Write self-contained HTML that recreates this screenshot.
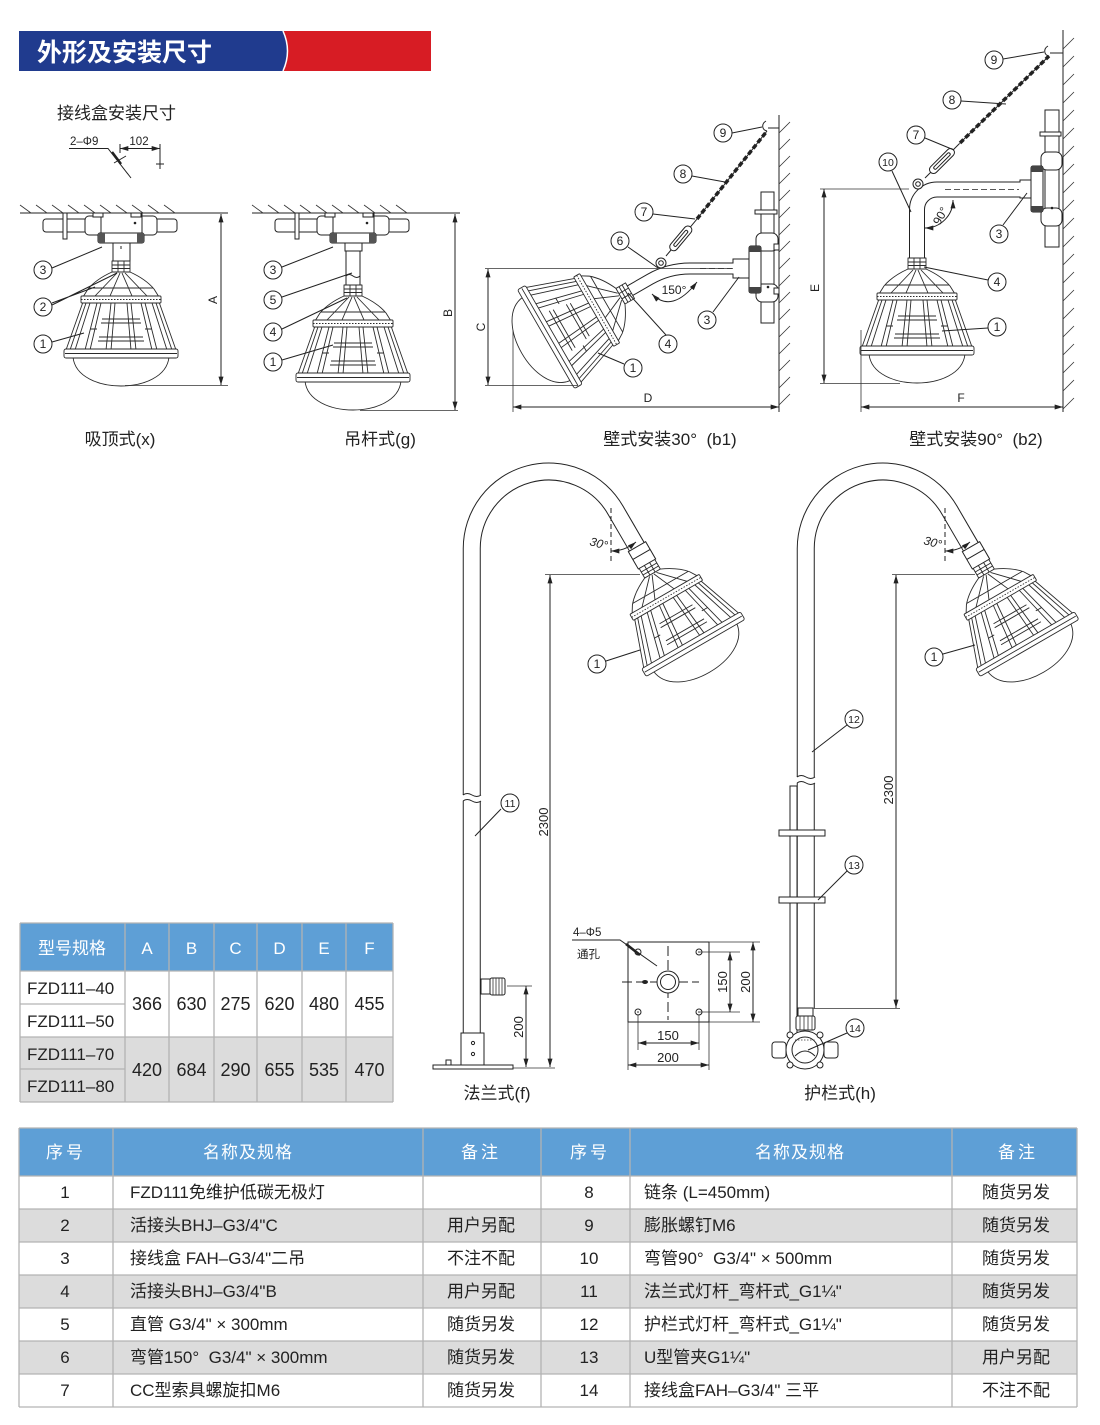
<!DOCTYPE html>
<html><head><meta charset="utf-8">
<style>
html,body{margin:0;padding:0;background:#fff;}
svg{display:block;}
text{font-family:"Liberation Sans","Noto Sans CJK SC",sans-serif;fill:#222;}
.ln{stroke:#222;stroke-width:1;fill:none;}
.th{stroke:#333;stroke-width:0.8;fill:none;}
.w{fill:#fff;stroke:#222;stroke-width:1;}
.co circle{fill:#fff;stroke:#222;stroke-width:1;}
.co text{font-size:12px;text-anchor:middle;}
.tb text{font-size:17px;}
</style></head><body>
<svg width="1100" height="1425" viewBox="0 0 1100 1425" xmlns="http://www.w3.org/2000/svg">
<defs>
<marker id="ar" viewBox="0 0 10 6" refX="10" refY="3" markerWidth="9" markerHeight="5" markerUnits="userSpaceOnUse" orient="auto-start-reverse"><path d="M0,0 L10,3 L0,6 Z" fill="#222"/></marker>
<g id="lamp" stroke="#2a2a2a" stroke-width="0.9" fill="#fff" stroke-linejoin="round">
 <path d="M-48,96 C-46,116 -22,125 0,125 C22,125 46,116 48,96 Z"/>
 <path d="M-38,41 L38,41 L55,89 L-55,89 Z"/>
 <g fill="none">
  <path d="M-35,42 L-51,89 M-31,42 L-46,89"/>
  <path d="M-24,42 L-36,89 M-20,42 L-31,89"/>
  <path d="M-10,42 L-15,89 M-6,42 L-10,89"/>
  <path d="M6,42 L10,89 M10,42 L15,89"/>
  <path d="M20,42 L31,89 M24,42 L36,89"/>
  <path d="M31,42 L46,89 M35,42 L51,89"/>
  <path d="M-19,58 H19 M-20,62 H20 M-22,76 H22 M-23,80 H23"/>
  <path d="M-31,68 H-24 M24,68 H31"/>
 </g>
 <rect x="-57" y="88" width="114" height="9" rx="2"/>
 <path d="M-56,92.5 H56" fill="none"/>
 <path d="M-9,11 L9,11 C20,16 28,22 33,28 L38,36 L-38,36 L-33,28 C-28,22 -20,16 -9,11 Z"/>
 <path d="M-4,12 L-26,35 M4,12 L26,35 M-1,12 L-11,35 M1,12 L11,35 M-32,27 H32" fill="none"/>
 <rect x="-40" y="35" width="80" height="7" rx="1"/>
 <path d="M-40,38.5 H40" stroke-dasharray="1.5 1.5" fill="none"/>
 <rect x="-9" y="0" width="18" height="11"/>
 <path d="M-9,4 H9 M-9,7.5 H9 M-3,0 V11 M3,0 V11" fill="none"/>
</g>
</defs>

<!-- Header -->
<rect x="19" y="31" width="412" height="40" fill="#d71c24"/>
<path d="M19,31 H283 Q292,51 283,71 H19 Z" fill="#203b8e"/>
<path d="M283,31 Q292,51 283,71" stroke="#fff" stroke-width="1.5" fill="none"/>
<text x="37" y="61" font-size="25" font-weight="bold" style="fill:#fff">外形及安装尺寸</text>

<text x="57" y="119" font-size="17">接线盒安装尺寸</text>
<text x="70" y="145" font-size="11.5">2–Φ9</text>
<text x="139" y="145" font-size="11.5" text-anchor="middle">102</text>
<path class="ln" d="M69,148.5 H108 L131,178"/>
<path d="M112,152 L121,164" stroke="#222" stroke-width="2.5"/>
<path class="ln" d="M114,163 L126,156"/>
<line class="ln" x1="120" y1="148.5" x2="160" y2="148.5" marker-start="url(#ar)" marker-end="url(#ar)"/>
<path class="ln" d="M120,144 V153 M160,144 V169 M156,164 H164"/>

<!-- Diagram 1 : 吸顶式 -->
<g id="ceil1">
 <line class="ln" x1="20" y1="213" x2="228" y2="213"/>
 <path class="th" d="M20,205 l11,8 M36,205 l11,8 M52,205 l11,8 M68,205 l11,8 M84,205 l11,8 M100,205 l11,8 M116,205 l11,8 M132,205 l11,8 M148,205 l11,8 M164,205 l11,8"/>
 <rect class="w" x="43" y="219" width="134" height="13" rx="3"/>
 <rect class="w" x="63" y="213" width="4" height="26"/>
 <rect class="w" x="85" y="216" width="20" height="19" rx="4"/>
 <rect class="w" x="137" y="216" width="20" height="19" rx="4"/>
 <rect class="w" x="101" y="213" width="41" height="22"/>
 <rect class="w" x="93" y="213" width="10" height="4"/>
 <rect class="w" x="131" y="213" width="10" height="4"/>
 <circle cx="135" cy="223" r="1.3" fill="#222"/>
 <rect class="w" x="98" y="233" width="46" height="10" rx="2"/>
 <rect x="98" y="233" width="7" height="10" fill="#555"/>
 <rect x="137" y="233" width="7" height="10" fill="#555"/>
</g>
<rect class="w" x="113" y="243" width="17" height="18"/>
<path class="ln" d="M121,246 v3"/>
<use href="#lamp" transform="translate(121,261)"/>
<line class="ln" x1="221" y1="214" x2="221" y2="385" marker-start="url(#ar)" marker-end="url(#ar)"/>
<line class="th" x1="125" y1="385.5" x2="228" y2="385.5"/>
<text transform="translate(217,300) rotate(-90)" font-size="12" text-anchor="middle">A</text>
<path class="ln" d="M52,268 L102,247 M52,305 L117,273 M52,303 L95,287 M52,342 L84,333"/>
<g class="co"><circle cx="43" cy="270" r="9"/><text x="43" y="274">3</text>
<circle cx="43" cy="307" r="9"/><text x="43" y="311">2</text>
<circle cx="43" cy="344" r="9"/><text x="43" y="348">1</text></g>
<text x="120" y="445" font-size="17" text-anchor="middle">吸顶式(x)</text>

<!-- Diagram 2 : 吊杆式 -->
<use href="#ceil1" transform="translate(232,0)"/>
<rect class="w" x="345" y="243" width="17" height="8"/>
<rect class="w" x="346" y="251" width="14" height="34"/>
<path class="ln" d="M346,276 q3,-3 7,0 t7,0"/>
<use href="#lamp" transform="translate(353,285)"/>
<line class="ln" x1="455" y1="214" x2="455" y2="410" marker-start="url(#ar)" marker-end="url(#ar)"/>
<line class="th" x1="360" y1="410.5" x2="458" y2="410.5"/>
<text transform="translate(452,313) rotate(-90)" font-size="12" text-anchor="middle">B</text>
<path class="ln" d="M282,267 L333,247 M282,297 L352,273 M282,329 L347,298 M282,360 L333,345"/>
<g class="co"><circle cx="273" cy="270" r="9"/><text x="273" y="274">3</text>
<circle cx="273" cy="300" r="9"/><text x="273" y="304">5</text>
<circle cx="273" cy="332" r="9"/><text x="273" y="336">4</text>
<circle cx="273" cy="362" r="9"/><text x="273" y="366">1</text></g>
<text x="380" y="445" font-size="17" text-anchor="middle">吊杆式(g)</text>

<!-- Diagram b1 -->
<line class="ln" x1="779" y1="115" x2="779" y2="412"/>
<path class="th" d="M779,133 l11,-11 M779,150 l11,-11 M779,167 l11,-11 M779,184 l11,-11 M779,201 l11,-11 M779,218 l11,-11 M779,235 l11,-11 M779,252 l11,-11 M779,269 l11,-11 M779,286 l11,-11 M779,303 l11,-11 M779,320 l11,-11 M779,337 l11,-11 M779,354 l11,-11 M779,371 l11,-11 M779,388 l11,-11 M779,405 l11,-11"/>
<rect class="w" x="761" y="192" width="13" height="131"/>
<rect class="w" x="755" y="210" width="22" height="4"/>
<rect class="w" x="756" y="233" width="22" height="18" rx="6"/>
<rect class="w" x="756" y="284" width="22" height="18" rx="6"/>
<rect class="w" x="749" y="246" width="12" height="47" rx="2"/>
<rect x="749" y="246" width="12" height="6" fill="#444"/>
<rect x="749" y="287" width="12" height="6" fill="#444"/>
<rect class="w" x="774" y="244" width="5" height="6"/>
<rect class="w" x="774" y="288" width="5" height="6"/>
<circle cx="768" cy="287" r="1.3" fill="#222"/>
<rect class="w" x="733" y="259" width="16" height="19"/>
<path d="M733,268.5 H690 A80,80 0 0 0 650,279.2 L630,290.7" stroke="#222" stroke-width="12" fill="none"/>
<path d="M734,268.5 H690 A80,80 0 0 0 650,279.2 L630,290.7" stroke="#fff" stroke-width="10" fill="none"/>
<path d="M700,268.5 H732" stroke="#222" stroke-width="0.8" stroke-dasharray="6 3" fill="none"/>
<use href="#lamp" transform="translate(630,290.7) rotate(60)"/>
<line x1="697" y1="219" x2="767" y2="131" stroke="#222" stroke-width="3.5" stroke-dasharray="5 2.5"/>
<line x1="697" y1="219" x2="767" y2="131" stroke="#222" stroke-width="1"/>
<g transform="translate(666,256) rotate(-50)">
 <line class="ln" x1="0" y1="0" x2="8" y2="0"/>
 <rect class="w" x="8" y="-4" width="30" height="8" rx="4"/>
 <rect class="w" x="13" y="-1.5" width="20" height="3" rx="1.5"/>
 <line class="ln" x1="38" y1="0" x2="48" y2="0"/>
</g>
<circle class="w" cx="661" cy="263" r="5"/><circle class="w" cx="661" cy="263" r="2.3"/>
<path class="ln" d="M767,131 C762,130 761,124 766,121 M768,128 H779"/>
<path class="ln" d="M652,294 Q672,314 697,282" marker-start="url(#ar)" marker-end="url(#ar)"/>
<text x="674" y="294" font-size="12" text-anchor="middle">150°</text>
<line class="ln" x1="488" y1="269" x2="488" y2="385" marker-start="url(#ar)" marker-end="url(#ar)"/>
<line class="th" x1="485" y1="268.5" x2="733" y2="268.5"/>
<line class="th" x1="485" y1="385.5" x2="578" y2="385.5"/>
<text transform="translate(485,327) rotate(-90)" font-size="12" text-anchor="middle">C</text>
<line class="ln" x1="513" y1="407" x2="779" y2="407" marker-start="url(#ar)" marker-end="url(#ar)"/>
<line class="th" x1="513" y1="330" x2="513" y2="412"/>
<text x="648" y="402" font-size="12" text-anchor="middle">D</text>
<path class="ln" d="M732,133 L762,127 M692,176 L725,182 M653,214 L695,219 M628,247 L658,268 M713,312 L739,277 M666,335 L628,293 M624,364 L598,353"/>
<g class="co"><circle cx="723" cy="133" r="9"/><text x="723" y="137">9</text>
<circle cx="683" cy="174" r="9"/><text x="683" y="178">8</text>
<circle cx="644" cy="212" r="9"/><text x="644" y="216">7</text>
<circle cx="620" cy="241" r="9"/><text x="620" y="245">6</text>
<circle cx="707" cy="320" r="9"/><text x="707" y="324">3</text>
<circle cx="668" cy="344" r="9"/><text x="668" y="348">4</text>
<circle cx="633" cy="368" r="9"/><text x="633" y="372">1</text></g>
<text x="670" y="445" font-size="17" text-anchor="middle">壁式安装30°&#160;&#160;(b1)</text>

<!-- Diagram b2 -->
<line class="ln" x1="1063" y1="30" x2="1063" y2="412"/>
<path class="th" d="M1063,49 l11,-11 M1063,67 l11,-11 M1063,85 l11,-11 M1063,103 l11,-11 M1063,121 l11,-11 M1063,139 l11,-11 M1063,157 l11,-11 M1063,175 l11,-11 M1063,193 l11,-11 M1063,211 l11,-11 M1063,229 l11,-11 M1063,247 l11,-11 M1063,265 l11,-11 M1063,283 l11,-11 M1063,301 l11,-11 M1063,319 l11,-11 M1063,337 l11,-11 M1063,355 l11,-11 M1063,373 l11,-11 M1063,391 l11,-11 M1063,409 l11,-11"/>
<rect class="w" x="1045" y="110" width="14" height="137"/>
<rect class="w" x="1040" y="132" width="21" height="4"/>
<rect class="w" x="1041" y="152" width="21" height="18" rx="6"/>
<rect class="w" x="1041" y="208" width="21" height="18" rx="6"/>
<rect class="w" x="1031" y="166" width="12" height="46" rx="2"/>
<rect x="1031" y="166" width="12" height="6" fill="#444"/>
<rect x="1031" y="206" width="12" height="6" fill="#444"/>
<circle cx="1052" cy="208" r="1.3" fill="#222"/>
<rect class="w" x="1020" y="180" width="11" height="18"/>
<path d="M1020,189.5 H937 A20,20 0 0 0 917,209.5 V258" stroke="#222" stroke-width="16" fill="none"/>
<path d="M1021,189.5 H937 A20,20 0 0 0 917,209.5 V259" stroke="#fff" stroke-width="14" fill="none"/>
<path d="M945,189.5 H1019" stroke="#222" stroke-width="0.8" stroke-dasharray="6 3" fill="none"/>
<use href="#lamp" transform="translate(917,258)"/>
<line x1="960" y1="143" x2="1049" y2="56" stroke="#222" stroke-width="3.5" stroke-dasharray="5 2.5"/>
<line x1="960" y1="143" x2="1049" y2="56" stroke="#222" stroke-width="1"/>
<g transform="translate(925,178) rotate(-45)">
 <line class="ln" x1="0" y1="0" x2="8" y2="0"/>
 <rect class="w" x="8" y="-4" width="32" height="8" rx="4"/>
 <rect class="w" x="13" y="-1.5" width="22" height="3" rx="1.5"/>
 <line class="ln" x1="40" y1="0" x2="49" y2="0"/>
</g>
<circle class="w" cx="918" cy="184" r="5"/><circle class="w" cx="918" cy="184" r="2.3"/>
<path class="ln" d="M1049,56 C1044,55 1043,49 1048,46 M1050,53 H1063"/>
<path class="ln" d="M925,228 A28,28 0 0 0 953,200" marker-start="url(#ar)" marker-end="url(#ar)"/>
<text transform="translate(944,218) rotate(-60)" font-size="12" text-anchor="middle">90°</text>
<line class="ln" x1="824" y1="189" x2="824" y2="383" marker-start="url(#ar)" marker-end="url(#ar)"/>
<line class="th" x1="820" y1="189" x2="909" y2="189"/>
<line class="th" x1="820" y1="383.5" x2="900" y2="383.5"/>
<text transform="translate(819,288) rotate(-90)" font-size="12" text-anchor="middle">E</text>
<line class="ln" x1="861" y1="407" x2="1063" y2="407" marker-start="url(#ar)" marker-end="url(#ar)"/>
<line class="th" x1="861" y1="330" x2="861" y2="412"/>
<text x="961" y="402" font-size="12" text-anchor="middle">F</text>
<path class="ln" d="M1003,59 L1044,52 M961,101 L1006,104 M925,138 L954,150 M892,171 L911,212 M1003,225 L1027,193 M988,280 L924,267 M988,328 L942,331"/>
<g class="co"><circle cx="994" cy="60" r="9"/><text x="994" y="64">9</text>
<circle cx="952" cy="100" r="9"/><text x="952" y="104">8</text>
<circle cx="916" cy="135" r="9"/><text x="916" y="139">7</text>
<circle cx="888" cy="162" r="9"/><text x="888" y="166" style="font-size:10.5px">10</text>
<circle cx="999" cy="234" r="9"/><text x="999" y="238">3</text>
<circle cx="997" cy="282" r="9"/><text x="997" y="286">4</text>
<circle cx="997" cy="327" r="9"/><text x="997" y="331">1</text></g>
<text x="976" y="445" font-size="17" text-anchor="middle">壁式安装90°&#160;&#160;(b2)</text>

<!-- Pole f -->
<path d="M471.75,1034 V549 A77,77 0 0 1 615.7,510.5 L637,547" stroke="#222" stroke-width="18" fill="none"/>
<path d="M471.75,1035 V549 A77,77 0 0 1 615.7,510.5 L637.5,548" stroke="#fff" stroke-width="16" fill="none"/>
<rect x="459" y="795" width="26" height="6" fill="#fff"/>
<path class="ln" d="M463,795 Q467,792 472,795 T481,795 M463,801 Q467,798 472,801 T481,801"/>
<g transform="translate(647,564) rotate(-30)">
 <rect class="w" x="-10" y="-20" width="20" height="20"/>
 <path class="ln" d="M-10,-11 H10"/>
 <use href="#lamp"/>
</g>
<path class="ln" d="M611,508 V563" stroke-dasharray="5 3"/>
<path class="ln" d="M611,551 Q625,551 636,542" marker-start="url(#ar)" marker-end="url(#ar)"/>
<text transform="translate(589,545) rotate(15)" font-size="12" font-style="italic">30°</text>
<rect class="w" x="461" y="1033" width="23" height="32"/>
<circle cx="473" cy="1043" r="1.6" class="w"/><circle cx="473" cy="1054" r="1.6" class="w"/>
<rect class="w" x="433" y="1065" width="80" height="4"/>
<rect class="w" x="446" y="1060" width="5" height="5"/>
<rect class="w" x="481" y="979" width="9" height="15"/>
<rect class="w" x="490" y="978" width="15" height="17" rx="2"/>
<path class="th" d="M493,978 V995 M496,978 V995 M499,978 V995 M502,978 V995"/>
<line class="th" x1="507" y1="986" x2="532" y2="986"/>
<line class="ln" x1="526" y1="986" x2="526" y2="1067" marker-start="url(#ar)" marker-end="url(#ar)"/>
<text transform="translate(523,1027) rotate(-90)" font-size="13" text-anchor="middle">200</text>
<line class="th" x1="545" y1="574.5" x2="640" y2="574.5"/>
<line class="th" x1="513" y1="1068" x2="555" y2="1068"/>
<line class="ln" x1="550" y1="575" x2="550" y2="1067" marker-start="url(#ar)" marker-end="url(#ar)"/>
<text transform="translate(548,822) rotate(-90)" font-size="13" text-anchor="middle">2300</text>
<path class="ln" d="M606,661 L640,650 M501,809 L475,836"/>
<g class="co"><circle cx="597" cy="664" r="9"/><text x="597" y="668">1</text>
<circle cx="510" cy="803" r="9"/><text x="510" y="807" style="font-size:10.5px">11</text></g>

<!-- Flange detail -->
<rect class="w" x="628" y="942" width="81" height="80"/>
<path class="ln" d="M622,982 H699 M668,946 V1020" stroke-dasharray="10 4" stroke-width="0.8"/>
<circle class="w" cx="668" cy="982" r="11"/><circle class="w" cx="668" cy="982" r="7.5"/>
<ellipse cx="645" cy="982" rx="3" ry="2" fill="#222"/>
<circle class="w" cx="638" cy="952" r="3"/><circle class="w" cx="699" cy="952" r="3"/>
<circle class="w" cx="638" cy="1012" r="3"/><circle class="w" cx="699" cy="1012" r="3"/>
<circle cx="699" cy="952" r="0.8" fill="#222"/><circle cx="638" cy="1012" r="0.8" fill="#222"/><circle cx="699" cy="1012" r="0.8" fill="#222"/>
<text x="573" y="936" font-size="11.5">4–Φ5</text>
<text x="577" y="958" font-size="11.5">通孔</text>
<path class="ln" d="M572,940 H620 L657,966"/>
<path d="M626,944 L640,955" stroke="#222" stroke-width="2.6"/>
<line class="th" x1="700" y1="952" x2="740" y2="952"/>
<line class="th" x1="700" y1="1012" x2="740" y2="1012"/>
<line class="th" x1="709" y1="942" x2="760" y2="942"/>
<line class="th" x1="709" y1="1022" x2="760" y2="1022"/>
<line class="ln" x1="730" y1="952" x2="730" y2="1012" marker-start="url(#ar)" marker-end="url(#ar)"/>
<line class="ln" x1="753" y1="942" x2="753" y2="1022" marker-start="url(#ar)" marker-end="url(#ar)"/>
<text transform="translate(727,982) rotate(-90)" font-size="13" text-anchor="middle">150</text>
<text transform="translate(750,982) rotate(-90)" font-size="13" text-anchor="middle">200</text>
<line class="th" x1="638" y1="1015" x2="638" y2="1050"/>
<line class="th" x1="699" y1="1015" x2="699" y2="1050"/>
<line class="th" x1="628" y1="1022" x2="628" y2="1070"/>
<line class="th" x1="709" y1="1022" x2="709" y2="1070"/>
<line class="ln" x1="638" y1="1043" x2="699" y2="1043" marker-start="url(#ar)" marker-end="url(#ar)"/>
<line class="ln" x1="628" y1="1065" x2="709" y2="1065" marker-start="url(#ar)" marker-end="url(#ar)"/>
<text x="668" y="1040" font-size="13" text-anchor="middle">150</text>
<text x="668" y="1062" font-size="13" text-anchor="middle">200</text>
<text x="497" y="1099" font-size="17" text-anchor="middle">法兰式(f)</text>

<!-- Pole h -->
<rect class="w" x="790" y="786" width="7" height="250"/>
<path d="M805.75,1009 V549 A77,77 0 0 1 949.7,510.5 L971,547" stroke="#222" stroke-width="18" fill="none"/>
<path d="M805.75,1010 V549 A77,77 0 0 1 949.7,510.5 L971.5,548" stroke="#fff" stroke-width="16" fill="none"/>
<rect x="793" y="777" width="26" height="6" fill="#fff"/>
<path class="ln" d="M797,777 Q801,774 806,777 T815,777 M797,783 Q801,780 806,783 T815,783"/>
<rect class="w" x="779" y="830" width="46" height="6"/>
<rect class="w" x="779" y="897" width="46" height="6"/>
<g transform="translate(981,564) rotate(-30)">
 <rect class="w" x="-10" y="-20" width="20" height="20"/>
 <path class="ln" d="M-10,-11 H10"/>
 <use href="#lamp"/>
</g>
<path class="ln" d="M945,508 V563" stroke-dasharray="5 3"/>
<path class="ln" d="M945,551 Q959,551 970,542" marker-start="url(#ar)" marker-end="url(#ar)"/>
<text transform="translate(923,544) rotate(15)" font-size="12" font-style="italic">30°</text>
<rect class="w" x="798" y="1008" width="15" height="8"/>
<rect class="w" x="796" y="1016" width="19" height="14" rx="2"/>
<path class="th" d="M800,1016 V1030 M804,1016 V1030 M808,1016 V1030 M812,1016 V1030"/>
<rect class="w" x="772" y="1042" width="14" height="16" rx="3"/>
<rect class="w" x="824" y="1042" width="14" height="16" rx="3"/>
<circle class="w" cx="805" cy="1050" r="19"/>
<circle class="w" cx="805" cy="1050" r="13"/>
<path class="ln" d="M795,1056 Q805,1046 815,1056"/>
<circle class="w" cx="790" cy="1035" r="3"/><circle class="w" cx="820" cy="1035" r="3"/>
<circle class="w" cx="790" cy="1065" r="3"/><circle class="w" cx="820" cy="1065" r="3"/>
<path class="th" d="M795,1040 h20" stroke-dasharray="1.5 1.5"/>
<line class="th" x1="892" y1="574.5" x2="975" y2="574.5"/>
<line class="th" x1="815" y1="1008.5" x2="900" y2="1008.5"/>
<line class="ln" x1="896" y1="575" x2="896" y2="1008" marker-start="url(#ar)" marker-end="url(#ar)"/>
<text transform="translate(893,790) rotate(-90)" font-size="13" text-anchor="middle">2300</text>
<path class="ln" d="M943,654 L975,645 M847,725 L812,752 M847,871 L818,900 M847,1033 L808,1050"/>
<g class="co"><circle cx="934" cy="657" r="9"/><text x="934" y="661">1</text>
<circle cx="854" cy="719" r="9"/><text x="854" y="723" style="font-size:10.5px">12</text>
<circle cx="854" cy="865" r="9"/><text x="854" y="869" style="font-size:10.5px">13</text>
<circle cx="855" cy="1028" r="9"/><text x="855" y="1032" style="font-size:10.5px">14</text></g>
<text x="840" y="1099" font-size="17" text-anchor="middle">护栏式(h)</text>

<!-- Dimension table -->
<g class="tb">
<rect x="20" y="923" width="373" height="48" fill="#5e9fd6"/>
<rect x="20" y="971" width="373" height="66" fill="#fff"/>
<rect x="20" y="1037" width="373" height="65" fill="#dcdcdc"/>
<g stroke="#b3b3b3" stroke-width="1.3">
 <path d="M20,923 H393 M20,971 H393 M20,1004 H125 M20,1037 H393 M20,1069 H125 M20,1102 H393"/>
 <path d="M20,923 V1102 M125,923 V1102 M169,923 V1102 M214,923 V1102 M257,923 V1102 M302,923 V1102 M346,923 V1102 M393,923 V1102"/>
</g>
<text x="72" y="954" text-anchor="middle" style="fill:#fff">型号规格</text>
<text x="147" y="954" text-anchor="middle" style="fill:#fff">A</text>
<text x="191.5" y="954" text-anchor="middle" style="fill:#fff">B</text>
<text x="235.5" y="954" text-anchor="middle" style="fill:#fff">C</text>
<text x="279.5" y="954" text-anchor="middle" style="fill:#fff">D</text>
<text x="324" y="954" text-anchor="middle" style="fill:#fff">E</text>
<text x="369.5" y="954" text-anchor="middle" style="fill:#fff">F</text>
<text x="27" y="994">FZD111–40</text>
<text x="27" y="1027">FZD111–50</text>
<text x="27" y="1060">FZD111–70</text>
<text x="27" y="1092">FZD111–80</text>
<g text-anchor="middle">
 <text x="147" y="1010" style="font-size:18px">366</text><text x="191.5" y="1010" style="font-size:18px">630</text><text x="235.5" y="1010" style="font-size:18px">275</text><text x="279.5" y="1010" style="font-size:18px">620</text><text x="324" y="1010" style="font-size:18px">480</text><text x="369.5" y="1010" style="font-size:18px">455</text>
 <text x="147" y="1076" style="font-size:18px">420</text><text x="191.5" y="1076" style="font-size:18px">684</text><text x="235.5" y="1076" style="font-size:18px">290</text><text x="279.5" y="1076" style="font-size:18px">655</text><text x="324" y="1076" style="font-size:18px">535</text><text x="369.5" y="1076" style="font-size:18px">470</text>
</g>
</g>

<!-- Parts table -->
<g class="tb">
<rect x="19" y="1128" width="1058" height="48" fill="#5e9fd6"/>
<rect x="19" y="1176" width="1058" height="33" fill="#fff"/>
<rect x="19" y="1209" width="1058" height="33" fill="#dcdcdc"/>
<rect x="19" y="1242" width="1058" height="33" fill="#fff"/>
<rect x="19" y="1275" width="1058" height="33" fill="#dcdcdc"/>
<rect x="19" y="1308" width="1058" height="33" fill="#fff"/>
<rect x="19" y="1341" width="1058" height="33" fill="#dcdcdc"/>
<rect x="19" y="1374" width="1058" height="33" fill="#fff"/>
<g stroke="#b3b3b3" stroke-width="1.3">
 <path d="M19,1128 H1077 M19,1176 H1077 M19,1209 H1077 M19,1242 H1077 M19,1275 H1077 M19,1308 H1077 M19,1341 H1077 M19,1374 H1077 M19,1407 H1077"/>
 <path d="M19,1128 V1407 M113,1128 V1407 M423,1128 V1407 M541,1128 V1407 M630,1128 V1407 M952,1128 V1407 M1077,1128 V1407"/>
</g>
<text x="66" y="1158" text-anchor="middle" letter-spacing="3" style="fill:#fff">序号</text>
<text x="248" y="1158" text-anchor="middle" letter-spacing="1" style="fill:#fff">名称及规格</text>
<text x="481" y="1158" text-anchor="middle" letter-spacing="3" style="fill:#fff">备注</text>
<text x="590" y="1158" text-anchor="middle" letter-spacing="3" style="fill:#fff">序号</text>
<text x="800" y="1158" text-anchor="middle" letter-spacing="1" style="fill:#fff">名称及规格</text>
<text x="1018" y="1158" text-anchor="middle" letter-spacing="3" style="fill:#fff">备注</text>

<g text-anchor="middle">
<text x="65" y="1198">1</text><text x="65" y="1231">2</text><text x="65" y="1264">3</text><text x="65" y="1297">4</text><text x="65" y="1330">5</text><text x="65" y="1363">6</text><text x="65" y="1396">7</text>
<text x="589" y="1198">8</text><text x="589" y="1231">9</text><text x="589" y="1264">10</text><text x="589" y="1297">11</text><text x="589" y="1330">12</text><text x="589" y="1363">13</text><text x="589" y="1396">14</text>
<text x="481" y="1231">用户另配</text><text x="481" y="1264">不注不配</text><text x="481" y="1297">用户另配</text><text x="481" y="1330">随货另发</text><text x="481" y="1363">随货另发</text><text x="481" y="1396">随货另发</text>
<text x="1016" y="1198">随货另发</text><text x="1016" y="1231">随货另发</text><text x="1016" y="1264">随货另发</text><text x="1016" y="1297">随货另发</text><text x="1016" y="1330">随货另发</text><text x="1016" y="1363">用户另配</text><text x="1016" y="1396">不注不配</text>
</g>
<text x="130" y="1198">FZD111免维护低碳无极灯</text>
<text x="130" y="1231">活接头BHJ–G3/4"C</text>
<text x="130" y="1264">接线盒 FAH–G3/4"二吊</text>
<text x="130" y="1297">活接头BHJ–G3/4"B</text>
<text x="130" y="1330">直管 G3/4" × 300mm</text>
<text x="130" y="1363">弯管150°&#160;&#160;G3/4" × 300mm</text>
<text x="130" y="1396">CC型索具螺旋扣M6</text>
<text x="644" y="1198">链条 (L=450mm)</text>
<text x="644" y="1231">膨胀螺钉M6</text>
<text x="644" y="1264">弯管90°&#160;&#160;G3/4" × 500mm</text>
<text x="644" y="1297">法兰式灯杆_弯杆式_G1¼"</text>
<text x="644" y="1330">护栏式灯杆_弯杆式_G1¼"</text>
<text x="644" y="1363">U型管夹G1¼"</text>
<text x="644" y="1396">接线盒FAH–G3/4" 三平</text>
</g>
</svg>
</body></html>
